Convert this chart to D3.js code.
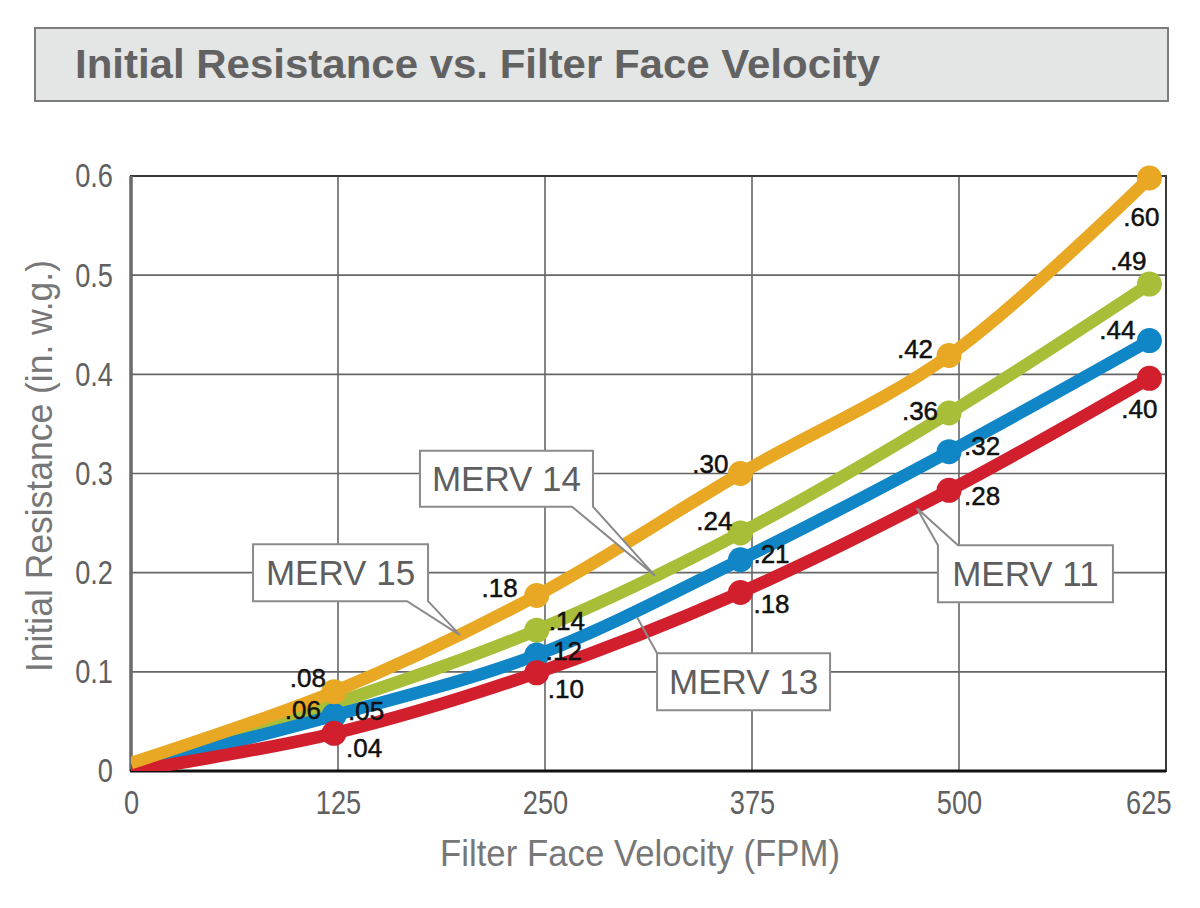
<!DOCTYPE html>
<html>
<head>
<meta charset="utf-8">
<script src="https://cdn.jsdelivr.net/npm/d3@7"></script>
<style>
  html, body { margin: 0; padding: 0; background: #ffffff; }
  svg { display: block; }
</style>
</head>
<body>
<svg id="chart" width="1200" height="908"></svg>
<script>
// ---------- DATA ----------
const chartTitle = "Initial Resistance vs. Filter Face Velocity";
const xTickValues = [0, 125, 250, 375, 500, 625];
const yTickValues = [0, 0.1, 0.2, 0.3, 0.4, 0.5, 0.6];
const xAxisTitle = "Filter Face Velocity (FPM)";
const yAxisTitle = "Initial Resistance (in. w.g.)";

// x positions of the plotted points
const pointVelocity = [0, 122.6, 245, 368, 494, 615];

const seriesNames = ["MERV 14", "MERV 13", "MERV 11", "MERV 15"];
const merv15 = [0.008, 0.080, 0.177, 0.300, 0.419, 0.598];
const merv14 = [0.005, 0.068, 0.142, 0.240, 0.361, 0.491];
const merv13 = [0.003, 0.056, 0.117, 0.213, 0.322, 0.434];
const merv11 = [0.000, 0.038, 0.099, 0.180, 0.283, 0.396];

const labels15 = [".08", ".18", ".30", ".42", ".60"];
const labels14 = [".06", ".14", ".24", ".36", ".49"];
const labels13 = [".05", ".12", ".21", ".32", ".44"];
const labels11 = [".04", ".10", ".18", ".28", ".40"];

// callout tips (data coordinates)
const calloutNames = ["MERV 15", "MERV 14", "MERV 13", "MERV 11"];
const calloutTipX = [198.7, 316.4, 305.6, 474.6];
const calloutTipY = [0.137, 0.197, 0.155, 0.265];

// ---------- STYLE / LAYOUT ----------
const colors = { "MERV 15": "#E9A823", "MERV 14": "#A9BE38", "MERV 13": "#1186C6", "MERV 11": "#D21F2E" };
const seriesValues = { "MERV 15": merv15, "MERV 14": merv14, "MERV 13": merv13, "MERV 11": merv11 };
const seriesLabels = { "MERV 15": labels15, "MERV 14": labels14, "MERV 13": labels13, "MERV 11": labels11 };
// label placement: [anchor, dx, dy]
const labelPlacement = {
  "MERV 15": [["end",-8,-5],["end",-19,2],["end",-12,-1],["end",-16,3],["middle",-8,48]],
  "MERV 14": [["end",-13,15],["start",12,0],["end",-8,-3],["end",-11,7],["end",-3,-14]],
  "MERV 13": [["start",14,5],["start",9,5],["start",13,3],["start",15,3],["end",-14,-2]],
  "MERV 11": [["start",12,24],["start",11,25],["start",13,20],["start",15,15],["middle",-10,40]]
};
// callout shapes relative to tip: box [x,y,w,h], wedge base points
const calloutShapes = [
  { box: [-207, -91, 175, 57], side: "bottom", base: [-53, -32] },
  { box: [-235, -125, 173, 56], side: "bottom", base: [-83, -62] },
  { box: [20, 36, 173, 57], side: "topleft", base: [20, 36] },
  { box: [21, 37, 175, 57], side: "topleft", base: [41, 21] }
];

const svg = d3.select("#chart");
const margin = { left: 131, right: 1166, top: 176, bottom: 771 };

const x = d3.scaleLinear().domain([0, 625]).range([margin.left, margin.right]);
const y = d3.scaleLinear().domain([0, 0.6]).range([margin.bottom, margin.top]);

const baseFont = "'Liberation Sans',Arial,sans-serif";
function condense(sel, factor) {
  sel.each(function () {
    const w = this.getComputedTextLength();
    d3.select(this).attr("textLength", w * factor).attr("lengthAdjust", "spacingAndGlyphs");
  });
}

// Title box
svg.append("rect").attr("x", 35).attr("y", 28).attr("width", 1133).attr("height", 73)
  .attr("fill", "#e4e5e5").attr("stroke", "#7d7d7d").attr("stroke-width", 2);
svg.append("text").attr("x", 75).attr("y", 78)
  .attr("font-family", baseFont)
  .attr("font-weight", "bold").attr("font-size", 40).attr("fill", "#626262")
  .attr("textLength", 805).attr("lengthAdjust", "spacingAndGlyphs")
  .text(chartTitle);

// Gridlines
const grid = svg.append("g");
grid.selectAll("line.v").data(xTickValues.slice(1, -1)).join("line")
  .attr("x1", d => x(d)).attr("x2", d => x(d)).attr("y1", y(0.6)).attr("y2", y(0))
  .attr("stroke", "#666").attr("stroke-width", 1.6);
grid.selectAll("line.h").data(yTickValues.slice(1, -1)).join("line")
  .attr("x1", x(0)).attr("x2", x(625)).attr("y1", d => y(d)).attr("y2", d => y(d))
  .attr("stroke", "#666").attr("stroke-width", 1.6);

// Frame
svg.append("rect").attr("x", x(0)).attr("y", y(0.6)).attr("width", x(625) - x(0)).attr("height", y(0) - y(0.6))
  .attr("fill", "none").attr("stroke", "#3a3a3a").attr("stroke-width", 2);

// Axes
const xAxis = svg.append("g").attr("transform", `translate(0,${y(0)})`)
  .call(d3.axisBottom(x).tickValues(xTickValues).tickSize(0).tickPadding(19).tickFormat(d3.format("d")));
const yAxis = svg.append("g").attr("transform", `translate(${x(0)},0)`)
  .call(d3.axisLeft(y).tickValues(yTickValues).tickSize(0).tickPadding(18).tickFormat(d => d === 0 ? "0" : d3.format(".1f")(d)));
[xAxis, yAxis].forEach(a => {
  a.select(".domain").remove();
  a.selectAll("text").attr("font-family", baseFont).attr("font-size", 34).attr("fill", "#606060");
  condense(a.selectAll("text"), 0.8);
});
xAxis.selectAll("text").attr("dy", "0.71em");
// keep the last x tick label inside the frame, as in the reference
xAxis.selectAll(".tick").filter(d => d === 625).select("text").attr("text-anchor", "end").attr("x", 5);
// left & bottom axis lines
svg.append("line").attr("x1", x(0)).attr("x2", x(0)).attr("y1", y(0.6)).attr("y2", y(0))
  .attr("stroke", "#6a6a6a").attr("stroke-width", 3.5);
svg.append("line").attr("x1", x(0) - 1).attr("x2", x(625)).attr("y1", y(0)).attr("y2", y(0))
  .attr("stroke", "#111").attr("stroke-width", 3);

// Axis titles
svg.append("text").attr("x", 640).attr("y", 866).attr("text-anchor", "middle")
  .attr("font-family", baseFont).attr("font-size", 36).attr("fill", "#777")
  .attr("textLength", 400).attr("lengthAdjust", "spacingAndGlyphs").text(xAxisTitle);
svg.append("text").attr("transform", "translate(52,466) rotate(-90)").attr("text-anchor", "middle")
  .attr("font-family", baseFont).attr("font-size", 36).attr("fill", "#777")
  .attr("textLength", 412).attr("lengthAdjust", "spacingAndGlyphs").text(yAxisTitle);

// Clip for lines
svg.append("clipPath").attr("id", "plotclip").append("rect")
  .attr("x", x(0)).attr("y", y(0.6) - 30).attr("width", x(625) - x(0) + 30).attr("height", y(0) - y(0.6) + 30);

const line = d3.line().x(d => x(d[0])).y(d => y(d[1])).curve(d3.curveCatmullRom.alpha(0.5));

const seriesG = svg.append("g").attr("clip-path", "url(#plotclip)");
seriesNames.forEach(name => {
  const vals = seriesValues[name];
  const pts = pointVelocity.map((v, i) => [v, vals[i]]);
  const g = seriesG.append("g");
  g.append("path").datum(pts).attr("d", line).attr("fill", "none")
    .attr("stroke", colors[name]).attr("stroke-width", 12.5).attr("stroke-linecap", "butt");
  g.selectAll("circle").data(pts.slice(1)).join("circle")
    .attr("cx", d => x(d[0])).attr("cy", d => y(d[1])).attr("r", 12.5).attr("fill", colors[name]);
});

// Value labels
const labelG = svg.append("g");
["MERV 15", "MERV 14", "MERV 13", "MERV 11"].forEach(name => {
  const vals = seriesValues[name];
  seriesLabels[name].forEach((lab, i) => {
    const p = labelPlacement[name][i];
    labelG.append("text")
      .attr("x", x(pointVelocity[i + 1]) + p[1]).attr("y", y(vals[i + 1]) + p[2])
      .attr("text-anchor", p[0]).attr("font-family", baseFont)
      .attr("font-size", 26).attr("fill", "#111").attr("stroke", "#111").attr("stroke-width", 0.5)
      .text(lab);
  });
});

// Callouts
const calloutG = svg.append("g");
calloutNames.forEach((name, i) => {
  const tx = x(calloutTipX[i]), ty = y(calloutTipY[i]);
  const s = calloutShapes[i];
  const bx = tx + s.box[0], by = ty + s.box[1], bw = s.box[2], bh = s.box[3];
  let p;
  if (s.side === "bottom") {
    p = `M${bx},${by} L${bx + bw},${by} L${bx + bw},${by + bh} L${tx},${ty} L${tx + s.base[0]},${by + bh} L${bx},${by + bh} Z`;
  } else {
    p = `M${tx},${ty} L${tx + s.base[1] < bx ? bx : tx + s.base[0]},${by} L${bx + bw},${by} L${bx + bw},${by + bh} L${bx},${by + bh} L${bx},${by} Z`;
  }
  calloutG.append("path").attr("d", p).attr("fill", "#fff").attr("stroke", "#8a8a8a")
    .attr("stroke-width", 2).attr("stroke-linejoin", "miter");
  calloutG.append("text").attr("x", bx + bw / 2).attr("y", by + bh / 2 + 12)
    .attr("text-anchor", "middle").attr("font-family", baseFont)
    .attr("font-size", 35).attr("fill", "#5e5e5e").text(name);
});
</script>
</body>
</html>
